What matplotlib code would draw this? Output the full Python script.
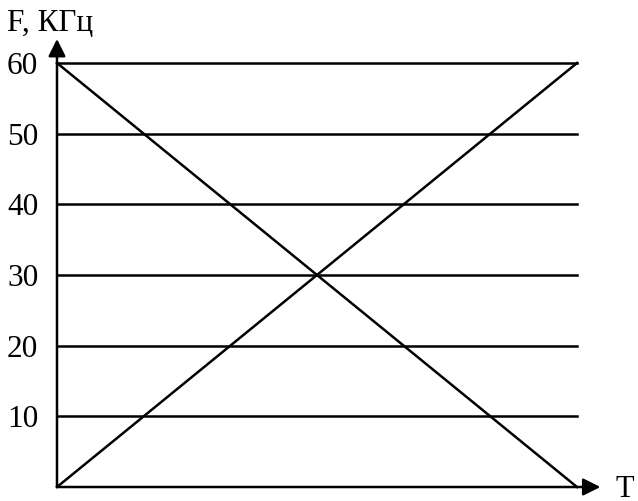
import matplotlib
matplotlib.use("Agg")
import matplotlib.pyplot as plt

levels = [10, 20, 30, 40, 50, 60]
tick_labels = ["10", "20", "30", "40", "50", "60"]
t_span = [0.0, 1.0]
falling = [60, 0]
rising = [0, 60]

plt.rcParams['font.family'] = ['Liberation Serif', 'DejaVu Serif']

W, H = 638, 501
fig = plt.figure(figsize=(W/100, H/100), dpi=100)
ax = fig.add_axes([57/W, (H-487)/H, 520/W, 424/H])
ax.set_xlim(0, 1)
ax.set_ylim(0, 60)
ax.axis('off')

lw = 1.8
for lv in levels:
    ax.plot(t_span, [lv, lv], color='black', lw=lw, clip_on=False)
ax.plot(t_span, falling, color='black', lw=lw, clip_on=False)
ax.plot(t_span, rising, color='black', lw=lw, clip_on=False)

# axes with arrows
ax.annotate('', xy=(0, 63.4), xytext=(0, 0), xycoords='data',
            arrowprops=dict(arrowstyle='-|>', color='black', lw=lw,
                            mutation_scale=26, shrinkA=0, shrinkB=0),
            annotation_clip=False)
ax.annotate('', xy=(1.045, 0), xytext=(0, 0), xycoords='data',
            arrowprops=dict(arrowstyle='-|>', color='black', lw=lw,
                            mutation_scale=26, shrinkA=0, shrinkB=0),
            annotation_clip=False)

for lv, lab in zip(levels, tick_labels):
    ax.text(-0.036, lv, lab, ha='right', va='center_baseline', fontsize=22.5)

fig.text(7/W, 1 - 20/H, "F, КГц", ha='left', va='center_baseline', fontsize=22.5)
fig.text(634/W, 1 - 486/H, "T", ha='right', va='center_baseline', fontsize=22)

fig.savefig("out.png", dpi=100)
